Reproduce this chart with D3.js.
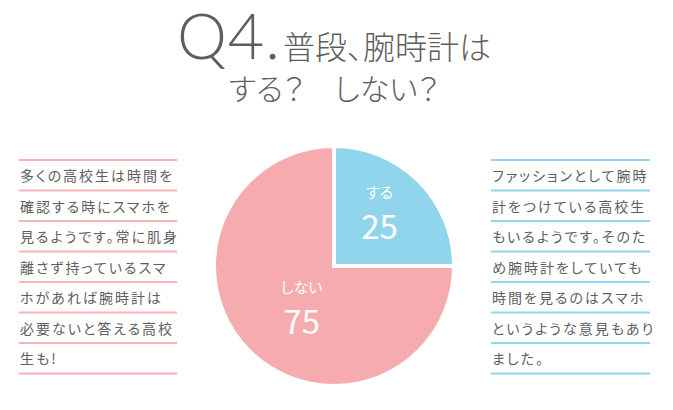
<!DOCTYPE html>
<html>
<head>
<meta charset="utf-8">
<script src="https://cdn.jsdelivr.net/npm/d3@7"></script>
<style>
  body { margin: 0; background: #fff; }
  text { font-family: "Noto Sans CJK JP", "Noto Sans", sans-serif; fill: #5e5e5e; font-feature-settings: "palt"; }
</style>
</head>
<body>
<div id="container"></div>
<script>
var w = 673;
var h = 410;

// data
var labels = ["する", "しない"];
var values = [25, 75];
var colors = ["#90d5ec", "#f6acae"];

var leftLines = [
  "多くの高校生は時間を",
  "確認する時にスマホを",
  "見るようです。常に肌身",
  "離さず持っているスマ",
  "ホがあれば腕時計は",
  "必要ないと答える高校",
  "生も!"
];
var rightLines = [
  "ファッションとして腕時",
  "計をつけている高校生",
  "もいるようです。そのた",
  "め腕時計をしていても",
  "時間を見るのはスマホ",
  "というような意見もあり",
  "ました。"
];

var svg = d3.select("div#container")
    .append("svg")
    .attr("width", w)
    .attr("height", h);

// title
var t1 = svg.append("text")
    .attr("x", 334)
    .attr("y", 59)
    .attr("text-anchor", "middle");
t1.append("tspan")
    .style("font-family", "Lato, 'Open Sans', sans-serif")
    .style("font-weight", 300)
    .style("font-size", "63px")
    .style("letter-spacing", "1px")
    .text("Q4.");
t1.append("tspan")
    .style("font-size", "32px")
    .style("font-weight", 300)
    .attr("dx", 2)
    .text("普段、腕時計は");

svg.append("text")
    .attr("x", 334)
    .attr("y", 100)
    .attr("text-anchor", "middle")
    .style("font-size", "30px")
    .style("font-weight", 300)
    .text("する？　しない？");

// pie
var cx = 334, cy = 266, r = 120;
var pie = d3.pie().sort(null).value(d => d);
var arcs = pie(values);
var arc = d3.arc().innerRadius(0).outerRadius(r);

var g = svg.append("g").attr("transform", `translate(${cx},${cy})`);
g.selectAll("path")
    .data(arcs)
    .enter()
    .append("path")
    .attr("d", arc)
    .attr("fill", (d, i) => colors[i])
    .attr("stroke", "#fff")
    .attr("stroke-width", 4)
    .attr("stroke-linejoin", "miter");

var labelR = [72, 51];
arcs.forEach(function(d, i) {
  var c = d3.arc().innerRadius(labelR[i]).outerRadius(labelR[i])
      .centroid({startAngle: d.startAngle - 0.1, endAngle: d.endAngle - 0.1});
  var lg = g.append("g").attr("transform", `translate(${c})`);
  lg.append("text")
      .attr("text-anchor", "middle")
      .attr("y", -12)
      .style("font-size", "15px")
      .style("fill", "#fff")
      .text(labels[i]);
  lg.append("text")
      .attr("text-anchor", "middle")
      .attr("y", 29)
      .style("font-size", "33px")
      .style("fill", "#fff")
      .text(values[i]);
});

// side notes
var lineY = d3.scaleLinear().domain([0, 7]).range([160, 373.5]);

function notes(lines, x0, x1, col) {
  var ng = svg.append("g");
  ng.selectAll("line")
      .data(d3.range(lines.length + 1))
      .enter()
      .append("line")
      .attr("x1", x0).attr("x2", x1)
      .attr("y1", d => lineY(d)).attr("y2", d => lineY(d))
      .attr("stroke", col)
      .attr("stroke-width", 2);
  ng.selectAll("text")
      .data(lines)
      .enter()
      .append("text")
      .attr("x", x0 + 1)
      .attr("y", (d, i) => (lineY(i) + lineY(i + 1)) / 2 + 6)
      .style("font-size", "14px")
      .style("letter-spacing", "2px")
      .text(d => d);
}
notes(leftLines, 19, 177, "#f7b3b6");
notes(rightLines, 491, 650, "#93d6ec");
</script>
</body>
</html>
